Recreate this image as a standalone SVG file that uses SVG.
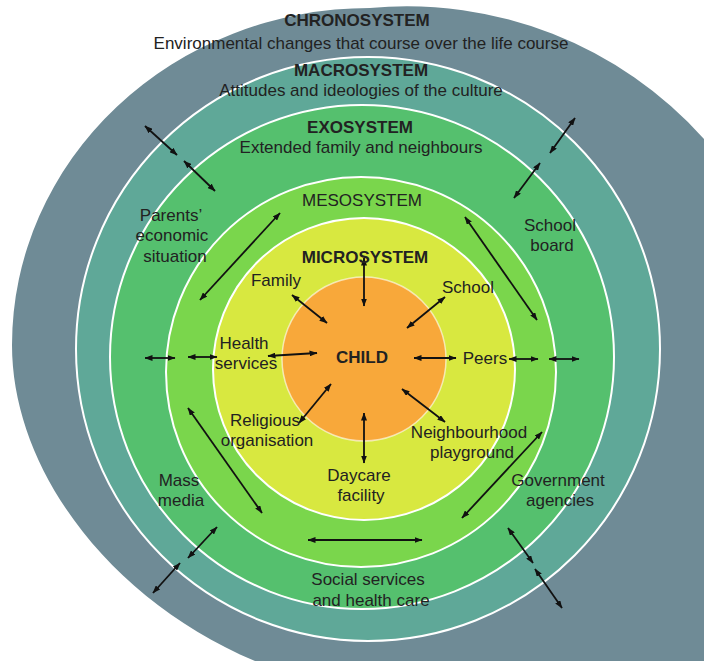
<svg xmlns="http://www.w3.org/2000/svg" width="704" height="661" viewBox="0 0 704 661">
  <defs>
    <marker id="ah" markerUnits="userSpaceOnUse" markerWidth="8" markerHeight="6" refX="7.5" refY="3" orient="auto-start-reverse">
      <path d="M0,0 L8,3 L0,6 Z" fill="#111"/>
    </marker>
    <style>
      text { font-family: "Liberation Sans", Arial, sans-serif; font-size: 17px; fill: #222; text-anchor: middle; }
      .b { font-weight: bold; }
      .ring { stroke: #ffffff; stroke-width: 2; }
      .cn line { stroke: #111; stroke-width: 1.8; marker-start: url(#ah); marker-end: url(#ah); }
    </style>
  </defs>
  <rect x="0" y="0" width="704" height="661" fill="#ffffff"/>

  <g id="chronosystem">
    <path d="M 12 345 A 358 337 0 0 1 370 8 A 399 399 0 0 1 704 139 L 720 139 L 720 680 L 262 680 L 255 661 C 110 600 12 470 12 345 Z" fill="#6f8b96"/>
  </g>
  <g id="macrosystem">
    <circle class="ring" cx="368" cy="349" r="292" fill="#5fa898"/>
  </g>
  <g id="exosystem">
    <circle class="ring" cx="362" cy="357" r="252" fill="#55c06e"/>
  </g>
  <g id="mesosystem">
    <circle class="ring" cx="361" cy="372" r="195" fill="#7ad64c"/>
  </g>
  <g id="microsystem">
    <circle class="ring" cx="364" cy="369" r="151" fill="#d8e840"/>
  </g>
  <g id="child">
    <circle cx="364" cy="359" r="82" fill="#f8a83a" stroke="#fff" stroke-opacity="0.6" stroke-width="1.5"/>
  </g>

  <g id="connectors" class="cn">
    <line x1="364" y1="258" x2="364" y2="306"/>
    <line x1="292" y1="295" x2="327" y2="323"/>
    <line x1="445" y1="297" x2="407" y2="328"/>
    <line x1="268" y1="356" x2="317" y2="353"/>
    <line x1="414" y1="358" x2="456" y2="358"/>
    <line x1="299" y1="423" x2="331" y2="384"/>
    <line x1="402" y1="389" x2="445" y2="422"/>
    <line x1="364" y1="413" x2="364" y2="463"/>
    <line x1="200" y1="300" x2="280" y2="213"/>
    <line x1="465" y1="217" x2="537" y2="320"/>
    <line x1="188" y1="408" x2="262" y2="513"/>
    <line x1="542" y1="432" x2="462" y2="518"/>
    <line x1="308" y1="540" x2="422" y2="540"/>
    <line x1="145" y1="358" x2="175" y2="358"/>
    <line x1="188" y1="357" x2="217" y2="357"/>
    <line x1="509" y1="359" x2="538" y2="359"/>
    <line x1="549" y1="359" x2="579" y2="359"/>
    <line x1="145" y1="126" x2="177" y2="155"/>
    <line x1="184" y1="161" x2="215" y2="191"/>
    <line x1="575" y1="118" x2="550" y2="153"/>
    <line x1="540" y1="163" x2="514" y2="198"/>
    <line x1="217" y1="527" x2="188" y2="558"/>
    <line x1="180" y1="563" x2="153" y2="593"/>
    <line x1="508" y1="528" x2="533" y2="563"/>
    <line x1="535" y1="569" x2="562" y2="608"/>
  </g>

  <g id="labels">
    <g id="t-chrono">
      <text class="b" x="357" y="26">CHRONOSYSTEM</text>
      <text x="361" y="49">Environmental changes that course over the life course</text>
    </g>
    <g id="t-macro">
      <text class="b" x="361" y="76">MACROSYSTEM</text>
      <text x="361" y="96">Attitudes and ideologies of the culture</text>
    </g>
    <g id="t-exo">
      <text class="b" x="360" y="133">EXOSYSTEM</text>
      <text x="361" y="153">Extended family and neighbours</text>
    </g>
    <g id="t-meso"><text x="362" y="206">MESOSYSTEM</text></g>
    <g id="t-micro"><text class="b" x="365" y="263">MICROSYSTEM</text></g>
    <g id="t-child"><text class="b" x="362" y="363">CHILD</text></g>
    <g id="n-family"><text x="276" y="286">Family</text></g>
    <g id="n-school"><text x="468" y="293">School</text></g>
    <g id="n-health"><text x="244" y="349">Health</text><text x="246" y="369">services</text></g>
    <g id="n-peers"><text x="485" y="364">Peers</text></g>
    <g id="n-religious"><text x="265" y="426">Religious</text><text x="267" y="446">organisation</text></g>
    <g id="n-neighbourhood"><text x="469" y="438">Neighbourhood</text><text x="472" y="458">playground</text></g>
    <g id="n-daycare"><text x="359" y="481">Daycare</text><text x="361" y="501">facility</text></g>
    <g id="n-mass"><text x="179" y="486">Mass</text><text x="181" y="506">media</text></g>
    <g id="n-government"><text x="558" y="486">Government</text><text x="560" y="506">agencies</text></g>
    <g id="n-social"><text x="368" y="585">Social services</text><text x="371" y="606">and health care</text></g>
    <g id="n-parents"><text x="171" y="221">Parents’</text><text x="172" y="241">economic</text><text x="175" y="262">situation</text></g>
    <g id="n-schoolboard"><text x="550" y="231">School</text><text x="552" y="251">board</text></g>
  </g>
</svg>
